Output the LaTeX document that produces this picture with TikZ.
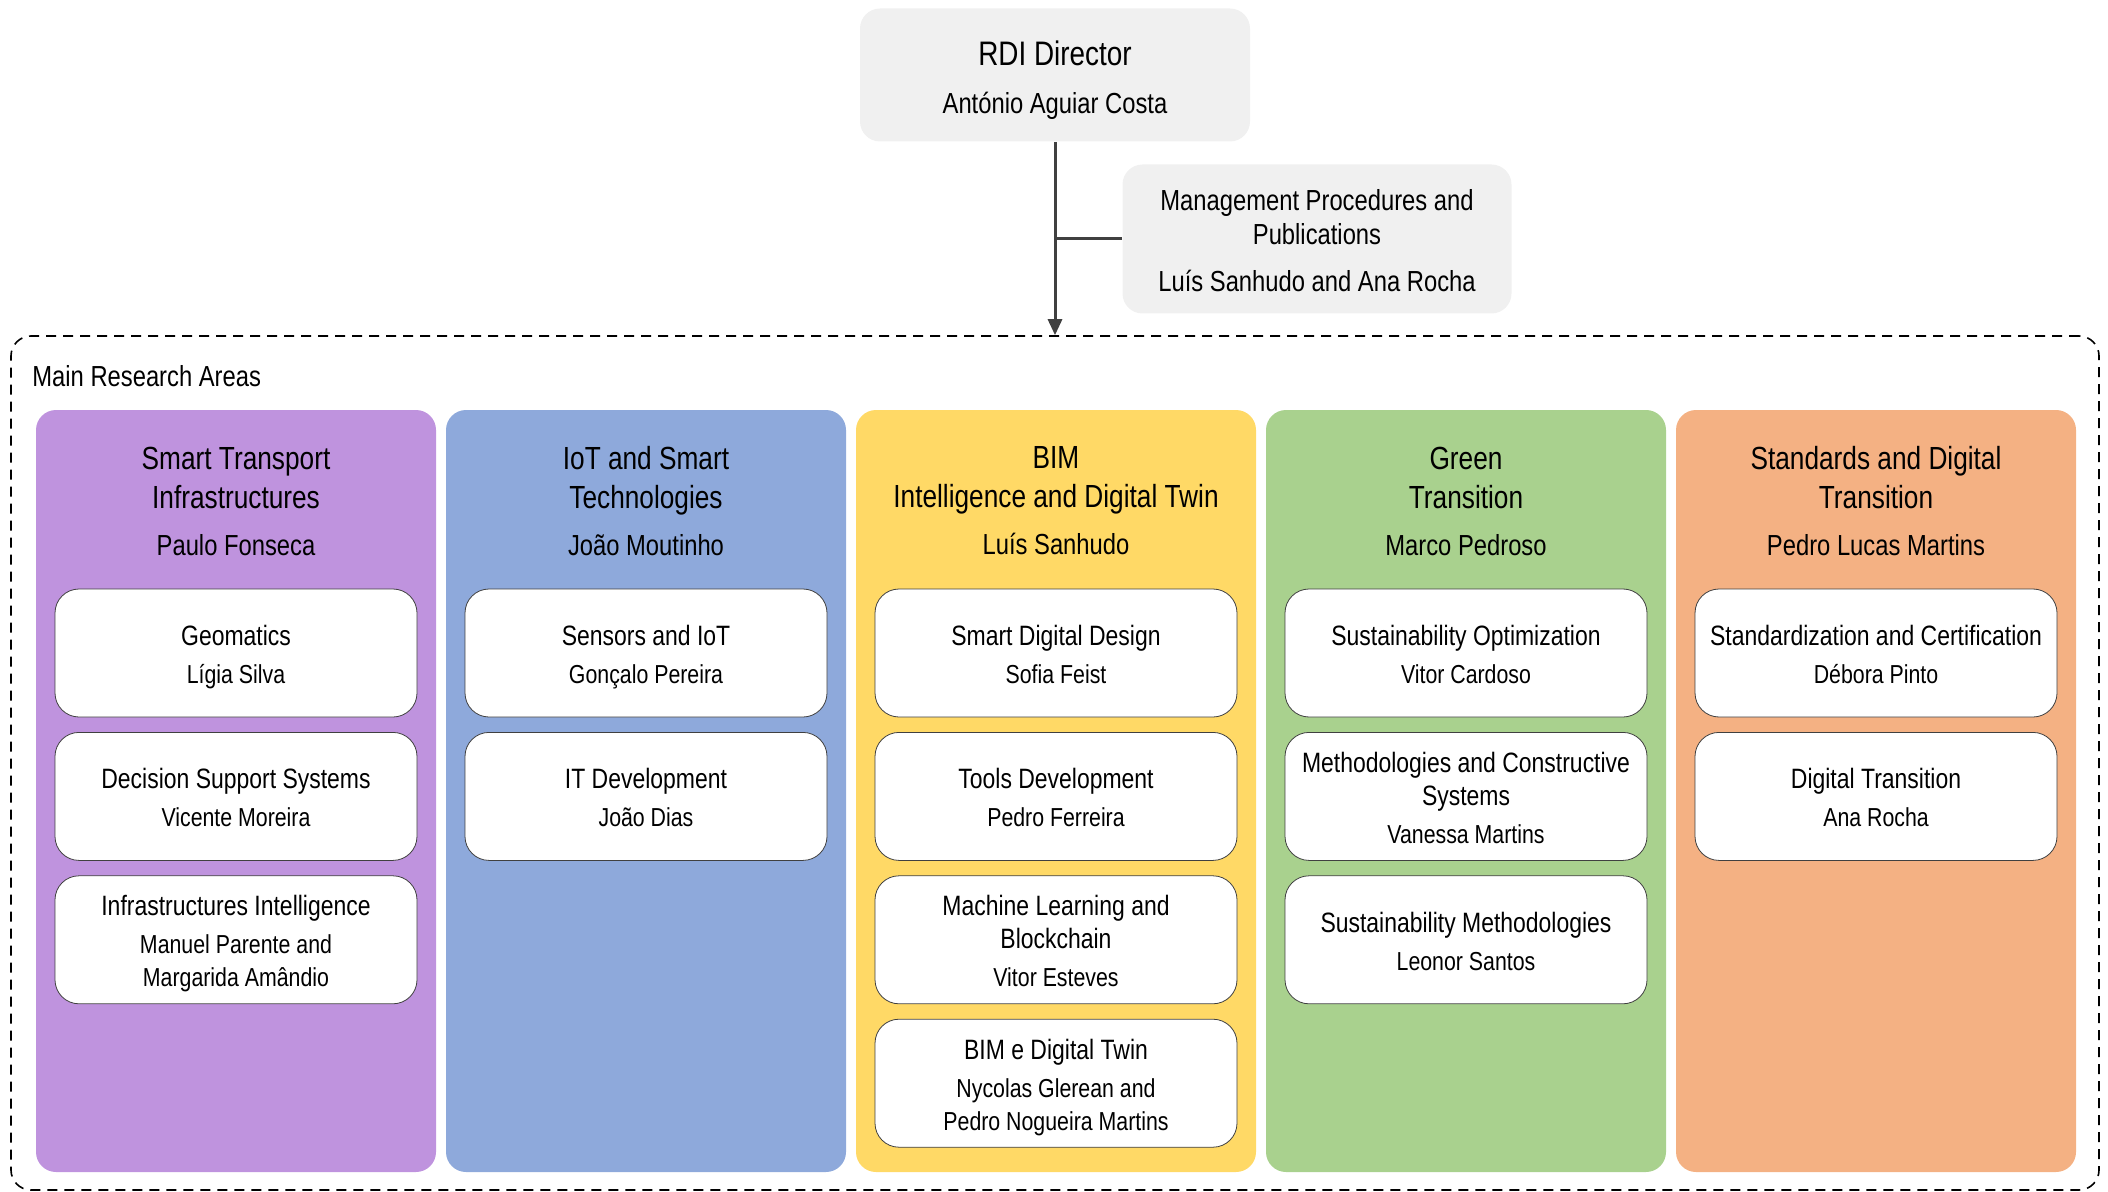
\documentclass[tikz,border=0pt]{standalone}
\usepackage{fontspec}
\setmainfont{Liberation Sans}[FakeStretch=0.82]
\usetikzlibrary{positioning,arrows.meta}

\definecolor{areapurple}{RGB}{191,147,222}
\definecolor{areablue}{RGB}{142,169,219}
\definecolor{areayellow}{RGB}{255,217,102}
\definecolor{areagreen}{RGB}{169,209,142}
\definecolor{areaorange}{RGB}{244,177,131}
\definecolor{leadgray}{RGB}{240,240,240}
\definecolor{linegray}{RGB}{64,64,64}

\newcommand{\ustrut}{\rule{0pt}{14.5pt}}
\newcommand{\pname}[1]{{\fontsize{13}{16}\selectfont #1\rule[-3pt]{0pt}{3pt}}}
\newcommand{\hname}[1]{{\fontsize{14.5}{17}\selectfont #1}}
\newcommand{\dname}[1]{{\fontsize{14.5}{17}\selectfont #1}}

\begin{document}
\begin{tikzpicture}[x=0.5pt, y=-0.5pt, node distance=7.3pt,
  lead/.style={fill=leadgray, rounded corners=10pt, align=center, inner sep=2pt},
  area/.style={rounded corners=10pt, minimum width=200pt, minimum height=381pt},
  head/.style={align=center, inner sep=0pt, font=\fontsize{16}{19.5}\selectfont},
  unit/.style={draw=linegray, fill=white, rounded corners=12pt, minimum width=181pt,
               minimum height=64pt, inner sep=2pt, align=center,
               font=\fontsize{14}{16.5}\selectfont},
  conn/.style={draw=linegray, line width=1.5pt}]
\useasboundingbox (0,0) rectangle (2108,1192);

\node[lead, minimum width=195pt, minimum height=66.5pt, font=\fontsize{17}{20.5}\selectfont]
  (dir) at (1055,75) {\rule{0pt}{17.4pt}RDI Director\\[3.5pt]\dname{António Aguiar Costa}};
\node[lead, minimum width=194.5pt, minimum height=74.5pt, font=\fontsize{14.5}{17}\selectfont]
  (mgmt) at (1317,239) {\rule{0pt}{12.5pt}Management Procedures and\\Publications\\[6.5pt]Luís Sanhudo and Ana Rocha};

\node[draw, dash pattern=on 5pt off 3.5pt, line width=0.8pt, rounded corners=10pt,
  minimum width=1044pt, minimum height=427pt] (mra) at (1055,763) {};
\node[anchor=west, inner sep=0pt, font=\fontsize{14.5}{17}\selectfont] (mralabel) at (32,376) {Main Research Areas};

\draw[conn, -{Triangle[length=8pt, width=7pt]}] (dir) -- (dir |- mra.north);
\draw[conn] (mgmt) -- (mgmt -| dir);

\node[area, fill=areapurple] (sti) at (236,791) {};
\node[head] (stihead) at (236,501) {Smart Transport\\Infrastructures\\[4pt]\hname{Paulo Fonseca}};
\node[unit] (geo) at (236,653) {\ustrut Geomatics\\[2.5pt]\pname{Lígia Silva}};
\node[unit, below=of geo] (dss) {\ustrut Decision Support Systems\\[2.5pt]\pname{Vicente Moreira}};
\node[unit, below=of dss] (infint) {\ustrut Infrastructures Intelligence\\[2.5pt]\pname{Manuel Parente and}\\\pname{Margarida Amândio}};

\node[area, fill=areablue] (iot) at (646,791) {};
\node[head] (iothead) at (646,501) {IoT and Smart\\Technologies\\[4pt]\hname{João Moutinho}};
\node[unit] (sens) at (646,653) {\ustrut Sensors and IoT\\[2.5pt]\pname{Gonçalo Pereira}};
\node[unit, below=of sens] (itdev) {\ustrut IT Development\\[2.5pt]\pname{João Dias}};

\node[area, fill=areayellow] (bim) at (1056,791) {};
\node[head] (bimhead) at (1056,501) {BIM\\Intelligence and Digital Twin\\[4pt]\hname{Luís Sanhudo}};
\node[unit] (sdd) at (1056,653) {\ustrut Smart Digital Design\\[2.5pt]\pname{Sofia Feist}};
\node[unit, below=of sdd] (tools) {\ustrut Tools Development\\[2.5pt]\pname{Pedro Ferreira}};
\node[unit, below=of tools] (mlb) {\ustrut Machine Learning and\\Blockchain\\[2.5pt]\pname{Vitor Esteves}};
\node[unit, below=of mlb] (bimdt) {\ustrut BIM e Digital Twin\\[2.5pt]\pname{Nycolas Glerean and}\\\pname{Pedro Nogueira Martins}};

\node[area, fill=areagreen] (green) at (1466,791) {};
\node[head] (greenhead) at (1466,501) {Green\\Transition\\[4pt]\hname{Marco Pedroso}};
\node[unit] (sopt) at (1466,653) {\ustrut Sustainability Optimization\\[2.5pt]\pname{Vitor Cardoso}};
\node[unit, below=of sopt] (mcs) {\ustrut Methodologies and Constructive\\Systems\\[2.5pt]\pname{Vanessa Martins}};
\node[unit, below=of mcs] (smeth) {\ustrut Sustainability Methodologies\\[2.5pt]\pname{Leonor Santos}};

\node[area, fill=areaorange] (sdt) at (1876,791) {};
\node[head] (sdthead) at (1876,501) {Standards and Digital\\Transition\\[4pt]\hname{Pedro Lucas Martins}};
\node[unit] (stdc) at (1876,653) {\ustrut Standardization and Certification\\[2.5pt]\pname{Débora Pinto}};
\node[unit, below=of stdc] (digt) {\ustrut Digital Transition\\[2.5pt]\pname{Ana Rocha}};

\end{tikzpicture}
\end{document}
